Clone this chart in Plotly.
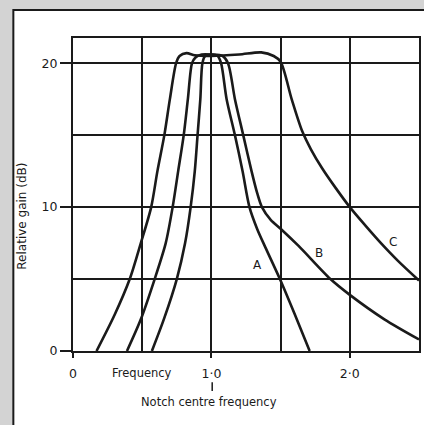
import plotly.graph_objects as go

# Curve A (narrowest)
a_x = [0.57, 0.66, 0.75, 0.81, 0.85, 0.88, 0.90, 0.92, 0.935, 0.955, 1.0, 1.045, 1.07, 1.11, 1.17, 1.225, 1.275, 1.33, 1.39, 1.495, 1.60, 1.71]
a_y = [0.0, 2.3, 5.0, 7.5, 10.0, 12.5, 15.0, 17.5, 20.0, 20.5, 20.6, 20.5, 20.0, 17.5, 15.0, 12.5, 10.0, 8.5, 7.2, 5.0, 2.6, 0.0]

# Curve B (medium)
b_x = [0.39, 0.49, 0.59, 0.67, 0.72, 0.76, 0.80, 0.83, 0.86, 0.885, 0.93, 1.0, 1.08, 1.12, 1.17, 1.23, 1.29, 1.33, 1.365, 1.43, 1.50, 1.63, 1.86, 2.0, 2.25, 2.5]
b_y = [0.0, 2.2, 5.0, 7.5, 10.0, 12.5, 15.0, 17.5, 20.0, 20.4, 20.6, 20.6, 20.5, 20.0, 17.5, 15.0, 12.5, 11.0, 10.0, 9.1, 8.5, 7.3, 5.0, 3.9, 2.2, 0.8]

# Curve C (widest)
c_x = [0.17, 0.30, 0.41, 0.49, 0.565, 0.61, 0.66, 0.70, 0.745, 0.77, 0.82, 0.88, 1.0, 1.2, 1.36, 1.45, 1.50, 1.58, 1.655, 1.72, 1.80, 1.90, 2.0, 2.11, 2.225, 2.35, 2.5]
c_y = [0.0, 2.5, 5.0, 7.5, 10.0, 12.5, 15.0, 17.5, 20.0, 20.5, 20.7, 20.55, 20.5, 20.6, 20.75, 20.5, 20.1, 17.5, 15.3, 14.0, 12.7, 11.3, 10.0, 8.75, 7.5, 6.25, 4.9]

curve_names = ["A", "B", "C"]
label_x = [1.335, 1.774, 2.31]
label_y = [5.97, 6.83, 7.6]

x_tickvals = [0, 1, 2]
x_ticktext = ["0", "1·0", "2·0"]
y_tickvals = [0, 10, 20]
y_ticktext = ["0", "10", "20"]

FONT = "DejaVu Sans"
INK = "#1a1a1a"

fig = go.Figure()
for xs, ys, nm in [(a_x, a_y, "A"), (b_x, b_y, "B"), (c_x, c_y, "C")]:
    fig.add_trace(go.Scatter(x=xs, y=ys, mode="lines", name=nm,
                             line=dict(color=INK, width=2.6, shape="spline", smoothing=0.8),
                             showlegend=False, hoverinfo="skip", cliponaxis=True))

for nm, lx, ly in zip(curve_names, label_x, label_y):
    fig.add_annotation(x=lx, y=ly, text=nm, showarrow=False,
                       font=dict(family=FONT, size=12, color=INK))

# outer frame of the figure
fig.add_shape(type="rect", xref="paper", yref="paper",
              x0=-0.1724, x1=1.4, y0=-0.5, y1=1.0895,
              fillcolor="white", line=dict(color=INK, width=2), layer="below")

# small marker under "1·0"
fig.add_shape(type="line", xref="paper", yref="paper",
              x0=0.4023, x1=0.4023, y0=-0.100, y1=-0.128,
              line=dict(color=INK, width=1.5))

fig.add_annotation(xref="paper", yref="paper", x=0.198, y=-0.070,
                   xanchor="center", yanchor="middle",
                   text="Frequency", showarrow=False,
                   font=dict(family=FONT, size=11.5, color=INK))
fig.add_annotation(xref="paper", yref="paper", x=0.394, y=-0.163,
                   xanchor="center", yanchor="middle",
                   text="Notch centre frequency", showarrow=False,
                   font=dict(family=FONT, size=11.5, color=INK))
fig.add_annotation(xref="paper", yref="paper", x=-0.1466, y=0.43,
                   xanchor="center", yanchor="middle",
                   text="Relative gain (dB)", textangle=-90, showarrow=False,
                   font=dict(family=FONT, size=12, color=INK))

fig.update_xaxes(range=[0, 2.5], tickvals=x_tickvals, ticktext=x_ticktext,
                 showgrid=True, gridcolor=INK, gridwidth=1.5,
                 minor=dict(dtick=0.5, tick0=0, showgrid=True, gridcolor=INK, gridwidth=1.5, ticks=""),
                 ticks="outside", ticklen=5, tickwidth=1.5, tickcolor=INK,
                 ticklabelstandoff=5,
                 showline=True, mirror=True, linecolor=INK, linewidth=2,
                 zeroline=False, tickfont=dict(family=FONT, size=12.5, color=INK))
fig.update_yaxes(range=[0, 21.75], tickvals=y_tickvals, ticktext=y_ticktext,
                 showgrid=True, gridcolor=INK, gridwidth=1.5,
                 minor=dict(dtick=5, tick0=0, showgrid=True, gridcolor=INK, gridwidth=1.5, ticks=""),
                 ticks="outside", ticklen=11, tickwidth=1.5, tickcolor=INK,
                 showline=True, mirror=True, linecolor=INK, linewidth=2,
                 zeroline=False, tickfont=dict(family=FONT, size=12.5, color=INK))

fig.update_layout(width=424, height=425,
                  margin=dict(l=73, r=3, t=38, b=74),
                  paper_bgcolor="#d3d3d3", plot_bgcolor="white",
                  showlegend=False)

fig.write_html("out.html", config={"displayModeBar": False},
               post_script="document.body.style.margin='0';")
